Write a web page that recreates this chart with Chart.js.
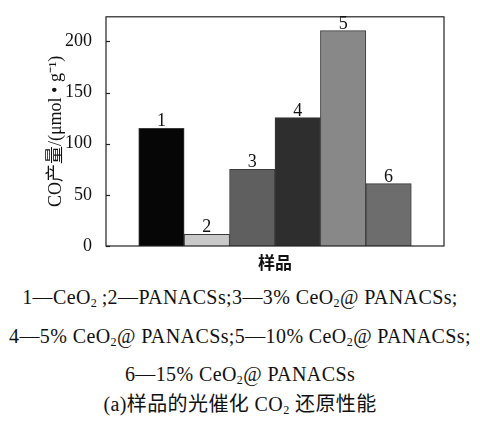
<!DOCTYPE html>
<html>
<head>
<meta charset="utf-8">
<script src="https://cdn.jsdelivr.net/npm/chart.js"></script>
<style>
  body { margin: 0; background: #fff; }
  #wrap { position: relative; width: 480px; height: 423px; }
  #chartBox { position: absolute; left: 0; top: 0; width: 480px; height: 275px; }
  .cap {
    position: absolute; left: 0; width: 480px; text-align: center;
    font-family: "Liberation Serif", "Noto Sans CJK SC", serif;
    font-size: 20px; letter-spacing: 0.4px; color: #111; white-space: nowrap; line-height: 1;
  }
  .cap sub { font-size: 12px; vertical-align: -3px; }
</style>
</head>
<body>
<div id="wrap">
  <div id="chartBox"><canvas id="bars"></canvas></div>
  <div class="cap" style="top:287px">1—CeO<sub>2</sub>&thinsp;;2—PANACSs;3—3% CeO<sub>2</sub>@ PANACSs;</div>
  <div class="cap" style="top:326px">4—5% CeO<sub>2</sub>@ PANACSs;5—10% CeO<sub>2</sub>@ PANACSs;</div>
  <div class="cap" style="top:364px">6—15% CeO<sub>2</sub>@ PANACSs</div>
  <div class="cap" style="top:394px">(a)样品的光催化 CO<sub>2</sub> 还原性能</div>
</div>
<script>
const samples = ['1', '2', '3', '4', '5', '6'];
const coYield = [115, 11.5, 75, 125.5, 210.5, 61];
const yTicks = [0, 50, 100, 150, 200];

const barColors = ['#060606', '#c9c9c9', '#5f5f5f', '#2e2e2e', '#888888', '#6d6d6d'];

// frame + inward ticks + number on each bar
const decorate = {
    id: 'decorate',
    afterDatasetsDraw(chart) {
        const c = chart.ctx;
        const a = chart.chartArea;
        const y = chart.scales.y;
        c.save();
        c.strokeStyle = '#222';
        c.lineWidth = 1.2;
        c.strokeRect(a.left, a.top, a.right - a.left, a.bottom - a.top);
        yTicks.forEach(t => {
            const py = Math.round(y.getPixelForValue(t)) + 0.5;
            c.beginPath();
            c.moveTo(a.left, py);
            c.lineTo(a.left + 4, py);
            c.stroke();
        });
        c.fillStyle = '#111';
        c.font = '18px "Liberation Serif", serif';
        c.textAlign = 'center';
        c.textBaseline = 'alphabetic';
        chart.getDatasetMeta(0).data.forEach((bar, i) => {
            c.fillText(samples[i], bar.x, bar.y - 2);
        });
        c.restore();
    }
};

const ctx = document.getElementById('bars').getContext('2d');
new Chart(ctx, {
    type: 'bar',
    data: {
        datasets: [{
            data: samples.map((s, i) => ({ x: i + 1, y: coYield[i] })),
            backgroundColor: barColors,
            borderColor: '#3a3a3a',
            borderWidth: 1,
            barPercentage: 1,
            categoryPercentage: 1
        }]
    },
    options: {
        responsive: true,
        maintainAspectRatio: false,
        animation: false,
        layout: { padding: { left: 45, right: 36, top: 12, bottom: 0 } },
        plugins: { legend: { display: false }, tooltip: { enabled: false } },
        scales: {
            x: {
                type: 'linear',
                offset: false,
                min: -0.22,
                max: 7.22,
                ticks: { display: false },
                grid: { display: false, offset: false },
                border: { display: false },
                title: {
                    display: true,
                    text: '样品',
                    color: '#111',
                    font: { family: '"Noto Sans CJK SC"', size: 17, weight: 'bold' },
                    padding: { top: 0, bottom: 2 }
                },
                afterFit(scale) { scale.height = 29; }
            },
            y: {
                min: 0,
                max: 224,
                afterBuildTicks(scale) { scale.ticks = yTicks.map(v => ({ value: v })); },
                ticks: {
                    color: '#111',
                    padding: 6,
                    font: { family: '"Liberation Serif", serif', size: 18 }
                },
                grid: { display: false },
                border: { display: false },
                title: {
                    display: true,
                    text: 'CO产量/(μmol • g⁻¹)',
                    color: '#111',
                    font: { family: '"Liberation Serif", "Noto Sans CJK SC", serif', size: 18 },
                    padding: 0
                },
                afterFit(scale) { scale.width = 61; }
            }
        }
    },
    plugins: [decorate]
});
</script>
</body>
</html>
